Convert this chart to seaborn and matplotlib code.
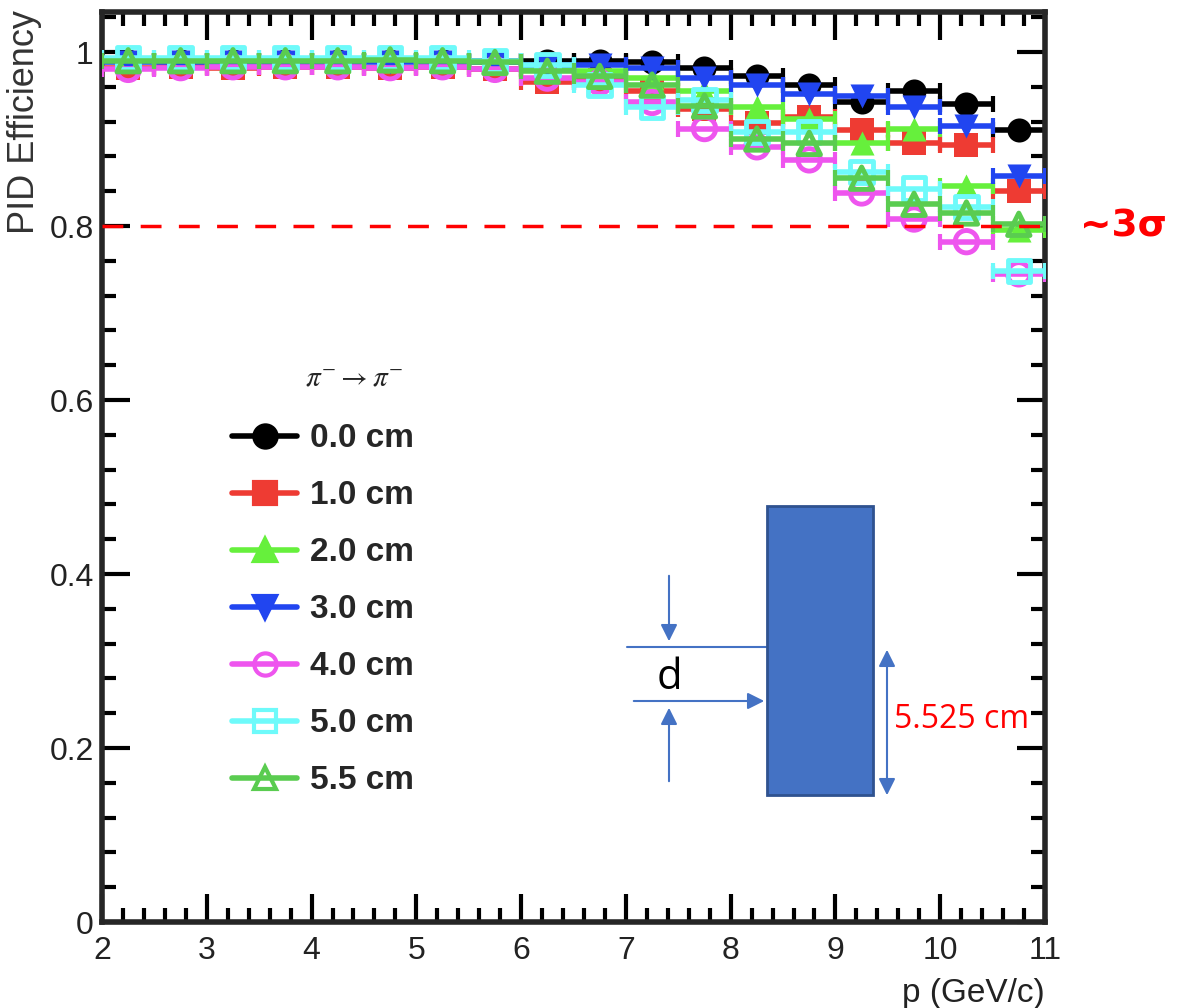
import matplotlib
matplotlib.use('Agg')
import matplotlib.pyplot as plt
import seaborn as sns
import pandas as pd
from matplotlib.lines import Line2D
from matplotlib.patches import Rectangle, FancyArrowPatch
from matplotlib.ticker import MultipleLocator

# bins of 0.5 GeV/c, centres
p_centres = [2.25, 2.75, 3.25, 3.75, 4.25, 4.75, 5.25, 5.75, 6.25,
             6.75, 7.25, 7.75, 8.25, 8.75, 9.25, 9.75, 10.25, 10.75]
p_halfwidth = 0.25

eff_0cm = [0.990, 0.990, 0.990, 0.990, 0.990, 0.990, 0.990, 0.990, 0.990,
           0.990, 0.988, 0.982, 0.973, 0.962, 0.942, 0.955, 0.940, 0.910]
eff_1cm = [0.982, 0.983, 0.982, 0.983, 0.983, 0.982, 0.983, 0.980, 0.965,
           0.968, 0.955, 0.935, 0.918, 0.925, 0.910, 0.895, 0.893, 0.840]
eff_2cm = [0.990, 0.990, 0.990, 0.990, 0.990, 0.990, 0.990, 0.988, 0.982,
           0.978, 0.970, 0.955, 0.937, 0.923, 0.895, 0.912, 0.846, 0.795]
eff_3cm = [0.988, 0.988, 0.988, 0.988, 0.988, 0.988, 0.988, 0.988, 0.985,
           0.985, 0.982, 0.970, 0.962, 0.952, 0.950, 0.937, 0.915, 0.857]
eff_4cm = [0.980, 0.982, 0.983, 0.983, 0.983, 0.982, 0.983, 0.980, 0.970,
           0.965, 0.942, 0.912, 0.891, 0.876, 0.838, 0.808, 0.782, 0.745]
eff_5cm = [0.993, 0.993, 0.993, 0.993, 0.993, 0.993, 0.993, 0.990, 0.985,
           0.962, 0.937, 0.945, 0.908, 0.908, 0.862, 0.843, 0.822, 0.748]
eff_55cm = [0.990, 0.990, 0.990, 0.990, 0.990, 0.991, 0.990, 0.988, 0.978,
            0.972, 0.962, 0.938, 0.900, 0.895, 0.855, 0.825, 0.815, 0.802]

labels = ['0.0 cm', '1.0 cm', '2.0 cm', '3.0 cm', '4.0 cm', '5.0 cm', '5.5 cm']
series = [eff_0cm, eff_1cm, eff_2cm, eff_3cm, eff_4cm, eff_5cm, eff_55cm]
colors = ['#000000', '#EE3B33', '#66F03C', '#2145F0', '#EE55EE', '#6EFAFA', '#5ACC50']
markers = ['o', 's', '^', 'v', 'o', 's', '^']
filled = [True, True, True, True, False, False, False]

cut_value = 0.8

sns.set_style('ticks')
plt.rcParams['font.family'] = ['Liberation Sans', 'DejaVu Sans']

fig = plt.figure(figsize=(11.82, 10.08), dpi=100)
ax = fig.add_axes([102/1182, 86/1008, 943/1182, 910/1008])

for i, (lab, vals) in enumerate(zip(labels, series)):
    df = pd.DataFrame({'p': p_centres, 'eff': vals})
    c = colors[i]
    ax.errorbar(df['p'], df['eff'], xerr=p_halfwidth, fmt='none', ecolor=c,
                elinewidth=4, capsize=6, capthick=3, zorder=2 + 2*i)
    if filled[i]:
        sns.scatterplot(data=df, x='p', y='eff', marker=markers[i], s=300,
                        color=c, edgecolor=c, linewidth=0, ax=ax, zorder=3 + 2*i)
    else:
        sns.scatterplot(data=df, x='p', y='eff', marker=markers[i], s=260,
                        facecolor='none', edgecolor=c, linewidth=3.5, ax=ax, zorder=3 + 2*i)

# 3 sigma line
ax.axhline(cut_value, color='red', lw=2.5, ls=(0, (6, 5)), zorder=20)
ax.text(11.33, cut_value, '~3σ', color='red', fontsize=27, fontweight='bold',
        va='center', ha='left', family=['DejaVu Sans'])

ax.set_xlim(2, 11)
ax.set_ylim(0, 1.046)
ax.set_yticks([0, 0.2, 0.4, 0.6, 0.8, 1.0])
ax.set_yticklabels(['0', '0.2', '0.4', '0.6', '0.8', '1'])
ax.set_xticks(range(2, 12))
ax.xaxis.set_minor_locator(MultipleLocator(0.2))
ax.yaxis.set_minor_locator(MultipleLocator(0.04))
ax.tick_params(which='both', direction='in', top=True, right=True, width=3, color='black')
ax.tick_params(which='major', length=20, labelsize=23, labelcolor='#222222')
ax.tick_params(which='minor', length=10)
ax.tick_params(axis='x', pad=10)
ax.tick_params(axis='y', pad=6)
for s in ax.spines.values():
    s.set_linewidth(4)

ax.set_xlabel('p (GeV/c)', loc='right', fontsize=24, color='#222222')
ax.set_ylabel('PID Efficiency', loc='top', fontsize=26, color='#333333')
ax.xaxis.set_label_coords(1.0, -0.061)
ax.yaxis.set_label_coords(-0.064, 1.002)

# legend
handles = []
for i in range(len(labels)):
    mfc = colors[i] if filled[i] else 'none'
    handles.append(Line2D([], [], color=colors[i], lw=4, marker=markers[i], markersize=16,
                          markerfacecolor=mfc, markeredgecolor=colors[i], markeredgewidth=3))
leg = ax.legend(handles, labels, loc='upper left', bbox_to_anchor=(0.138, 0.548),
                frameon=False, prop={'size': 24, 'weight': 'bold'}, borderpad=0,
                borderaxespad=0, handlelength=1.95, handletextpad=0.4, labelspacing=0.78)
ax.text(0.215, 0.598, r'$\pi^{-} \rightarrow \pi^{-}$', transform=ax.transAxes,
        fontsize=21, ha='left', va='center', math_fontfamily='stix')


# sketch of the detector geometry (figure pixel coords)
def fp(x, y):
    return (x / 1182, 1 - y / 1008)


blue = '#4472C4'
x0, y0 = fp(767, 795)
x1, y1 = fp(873, 506)
fig.patches.append(Rectangle((x0, y0), x1 - x0, y1 - y0, transform=fig.transFigure,
                             facecolor=blue, edgecolor='#2F528F', lw=2, zorder=30))
fig.add_artist(Line2D([fp(627, 0)[0], fp(766, 0)[0]], [fp(0, 647)[1]] * 2,
                      color=blue, lw=1.5, transform=fig.transFigure))
arrow_kw = dict(transform=fig.transFigure, color=blue, lw=1.5,
                mutation_scale=25)
fig.add_artist(FancyArrowPatch(fp(631, 701), fp(767, 701), arrowstyle='-|>', **arrow_kw))
fig.add_artist(FancyArrowPatch(fp(669, 573), fp(669, 644), arrowstyle='-|>', **arrow_kw))
fig.add_artist(FancyArrowPatch(fp(669, 784), fp(669, 705), arrowstyle='-|>', **arrow_kw))
fig.add_artist(FancyArrowPatch(fp(887, 647), fp(887, 798), arrowstyle='<|-|>', **arrow_kw))
fig.text(*fp(669, 678), 'd', fontsize=30, color='black', ha='center', va='center',
         family=['Open Sans'])
fig.text(*fp(894, 720), '5.525 cm', fontsize=23, color='red', ha='left', va='center',
         family=['Open Sans'])

plt.savefig('out.png', dpi=100)
